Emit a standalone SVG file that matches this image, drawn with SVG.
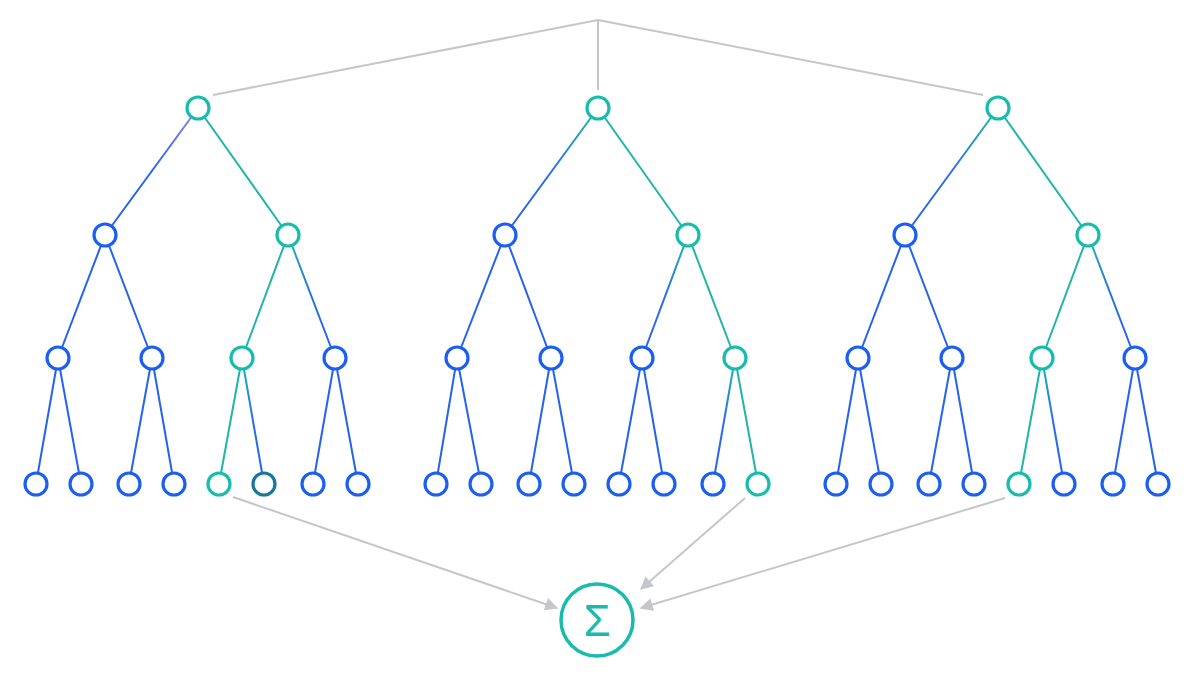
<svg xmlns="http://www.w3.org/2000/svg" width="1198" height="677" viewBox="0 0 1198 677">
<defs>
<linearGradient id="tb" x1="0" y1="0" x2="0" y2="1"><stop offset="0" stop-color="#17bcae"/><stop offset="0.5" stop-color="#2a6ee8"/><stop offset="1" stop-color="#2563eb"/></linearGradient>
<linearGradient id="pb" x1="0" y1="0" x2="0" y2="1"><stop offset="0" stop-color="#9a7ef0"/><stop offset="0.5" stop-color="#2363ee"/><stop offset="1" stop-color="#2363ee"/></linearGradient>
<marker id="ar" viewBox="0 0 10 10" refX="9" refY="5" markerWidth="16" markerHeight="13" markerUnits="userSpaceOnUse" orient="auto"><path d="M0,0L10,5L0,10z" fill="#c4c6cc"/></marker>
</defs>
<style>
.n{fill:#fff;stroke:#1c5ff0;stroke-width:3.2}
.t{fill:#fff;stroke:#17bcae;stroke-width:3.2}
.d{fill:#fff;stroke:#17759e;stroke-width:3.2}
.e{stroke:#2563eb;stroke-width:2;fill:none}
.et{stroke:#1fb5a8;stroke-width:2;fill:none}
.eg{stroke:url(#tb);stroke-width:2;fill:none}
.ep{stroke:url(#pb);stroke-width:2;fill:none}
.g{stroke:#c4c6cc;stroke-width:2;fill:none}
</style>
<g id="connectors">
<line class="g" x1="598" y1="20" x2="213" y2="95"/>
<line class="g" x1="598" y1="20" x2="598" y2="90"/>
<line class="g" x1="598" y1="20" x2="983" y2="95"/>
<line class="g" x1="233" y1="497" x2="557" y2="608" marker-end="url(#ar)"/>
<line class="g" x1="745" y1="498" x2="641" y2="589" marker-end="url(#ar)"/>
<line class="g" x1="1005" y1="498" x2="641" y2="608" marker-end="url(#ar)"/>
<!-- tree 1 -->
<line class="ep" x1="198" y1="108" x2="105" y2="235"/>
<line class="et" x1="198" y1="108" x2="288" y2="235"/>
<line class="e" x1="105" y1="235" x2="58" y2="358"/>
<line class="e" x1="105" y1="235" x2="152" y2="358"/>
<line class="et" x1="288" y1="235" x2="242" y2="358"/>
<line class="eg" x1="288" y1="235" x2="335" y2="358"/>
<line class="e" x1="58" y1="358" x2="36" y2="484"/>
<line class="e" x1="58" y1="358" x2="81" y2="484"/>
<line class="e" x1="152" y1="358" x2="129" y2="484"/>
<line class="e" x1="152" y1="358" x2="174" y2="484"/>
<line class="et" x1="242" y1="358" x2="219" y2="484"/>
<line class="eg" x1="242" y1="358" x2="264" y2="484"/>
<line class="e" x1="335" y1="358" x2="313" y2="484"/>
<line class="e" x1="335" y1="358" x2="358" y2="484"/>
<!-- tree 2 -->
<line class="eg" x1="598" y1="108" x2="505" y2="235"/>
<line class="et" x1="598" y1="108" x2="688" y2="235"/>
<line class="e" x1="505" y1="235" x2="457" y2="358"/>
<line class="e" x1="505" y1="235" x2="551" y2="358"/>
<line class="eg" x1="688" y1="235" x2="642" y2="358"/>
<line class="et" x1="688" y1="235" x2="735" y2="358"/>
<line class="e" x1="457" y1="358" x2="436" y2="484"/>
<line class="e" x1="457" y1="358" x2="481" y2="484"/>
<line class="e" x1="551" y1="358" x2="529" y2="484"/>
<line class="e" x1="551" y1="358" x2="574" y2="484"/>
<line class="e" x1="642" y1="358" x2="619" y2="484"/>
<line class="e" x1="642" y1="358" x2="664" y2="484"/>
<line class="eg" x1="735" y1="358" x2="713" y2="484"/>
<line class="et" x1="735" y1="358" x2="758" y2="484"/>
<!-- tree 3 -->
<line class="eg" x1="998" y1="108" x2="905" y2="235"/>
<line class="et" x1="998" y1="108" x2="1088" y2="235"/>
<line class="e" x1="905" y1="235" x2="858" y2="358"/>
<line class="e" x1="905" y1="235" x2="952" y2="358"/>
<line class="et" x1="1088" y1="235" x2="1042" y2="358"/>
<line class="eg" x1="1088" y1="235" x2="1135" y2="358"/>
<line class="e" x1="858" y1="358" x2="836" y2="484"/>
<line class="e" x1="858" y1="358" x2="881" y2="484"/>
<line class="e" x1="952" y1="358" x2="929" y2="484"/>
<line class="e" x1="952" y1="358" x2="974" y2="484"/>
<line class="et" x1="1042" y1="358" x2="1019" y2="484"/>
<line class="eg" x1="1042" y1="358" x2="1064" y2="484"/>
<line class="e" x1="1135" y1="358" x2="1113" y2="484"/>
<line class="e" x1="1135" y1="358" x2="1158" y2="484"/>
</g>
<g id="tree1">
<circle class="t" cx="198" cy="108" r="11"/>
<circle class="n" cx="105" cy="235" r="11"/><circle class="t" cx="288" cy="235" r="11"/>
<circle class="n" cx="58" cy="358" r="11"/><circle class="n" cx="152" cy="358" r="11"/><circle class="t" cx="242" cy="358" r="11"/><circle class="n" cx="335" cy="358" r="11"/>
<circle class="n" cx="36" cy="484" r="11"/><circle class="n" cx="81" cy="484" r="11"/><circle class="n" cx="129" cy="484" r="11"/><circle class="n" cx="174" cy="484" r="11"/><circle class="t" cx="219" cy="484" r="11"/><circle class="d" cx="264" cy="484" r="11"/><circle class="n" cx="313" cy="484" r="11"/><circle class="n" cx="358" cy="484" r="11"/>
</g>
<g id="tree2">
<circle class="t" cx="598" cy="108" r="11"/>
<circle class="n" cx="505" cy="235" r="11"/><circle class="t" cx="688" cy="235" r="11"/>
<circle class="n" cx="457" cy="358" r="11"/><circle class="n" cx="551" cy="358" r="11"/><circle class="n" cx="642" cy="358" r="11"/><circle class="t" cx="735" cy="358" r="11"/>
<circle class="n" cx="436" cy="484" r="11"/><circle class="n" cx="481" cy="484" r="11"/><circle class="n" cx="529" cy="484" r="11"/><circle class="n" cx="574" cy="484" r="11"/><circle class="n" cx="619" cy="484" r="11"/><circle class="n" cx="664" cy="484" r="11"/><circle class="n" cx="713" cy="484" r="11"/><circle class="t" cx="758" cy="484" r="11"/>
</g>
<g id="tree3">
<circle class="t" cx="998" cy="108" r="11"/>
<circle class="n" cx="905" cy="235" r="11"/><circle class="t" cx="1088" cy="235" r="11"/>
<circle class="n" cx="858" cy="358" r="11"/><circle class="n" cx="952" cy="358" r="11"/><circle class="t" cx="1042" cy="358" r="11"/><circle class="n" cx="1135" cy="358" r="11"/>
<circle class="n" cx="836" cy="484" r="11"/><circle class="n" cx="881" cy="484" r="11"/><circle class="n" cx="929" cy="484" r="11"/><circle class="n" cx="974" cy="484" r="11"/><circle class="t" cx="1019" cy="484" r="11"/><circle class="n" cx="1064" cy="484" r="11"/><circle class="n" cx="1113" cy="484" r="11"/><circle class="n" cx="1158" cy="484" r="11"/>
</g>
<g id="sum">
<circle cx="597" cy="620" r="36" fill="#fff" stroke="#17bcae" stroke-width="3.5"/>
<text x="597" y="636" text-anchor="middle" font-family="Liberation Sans, sans-serif" font-size="44" fill="#17bcae">Σ</text>
</g>
</svg>
